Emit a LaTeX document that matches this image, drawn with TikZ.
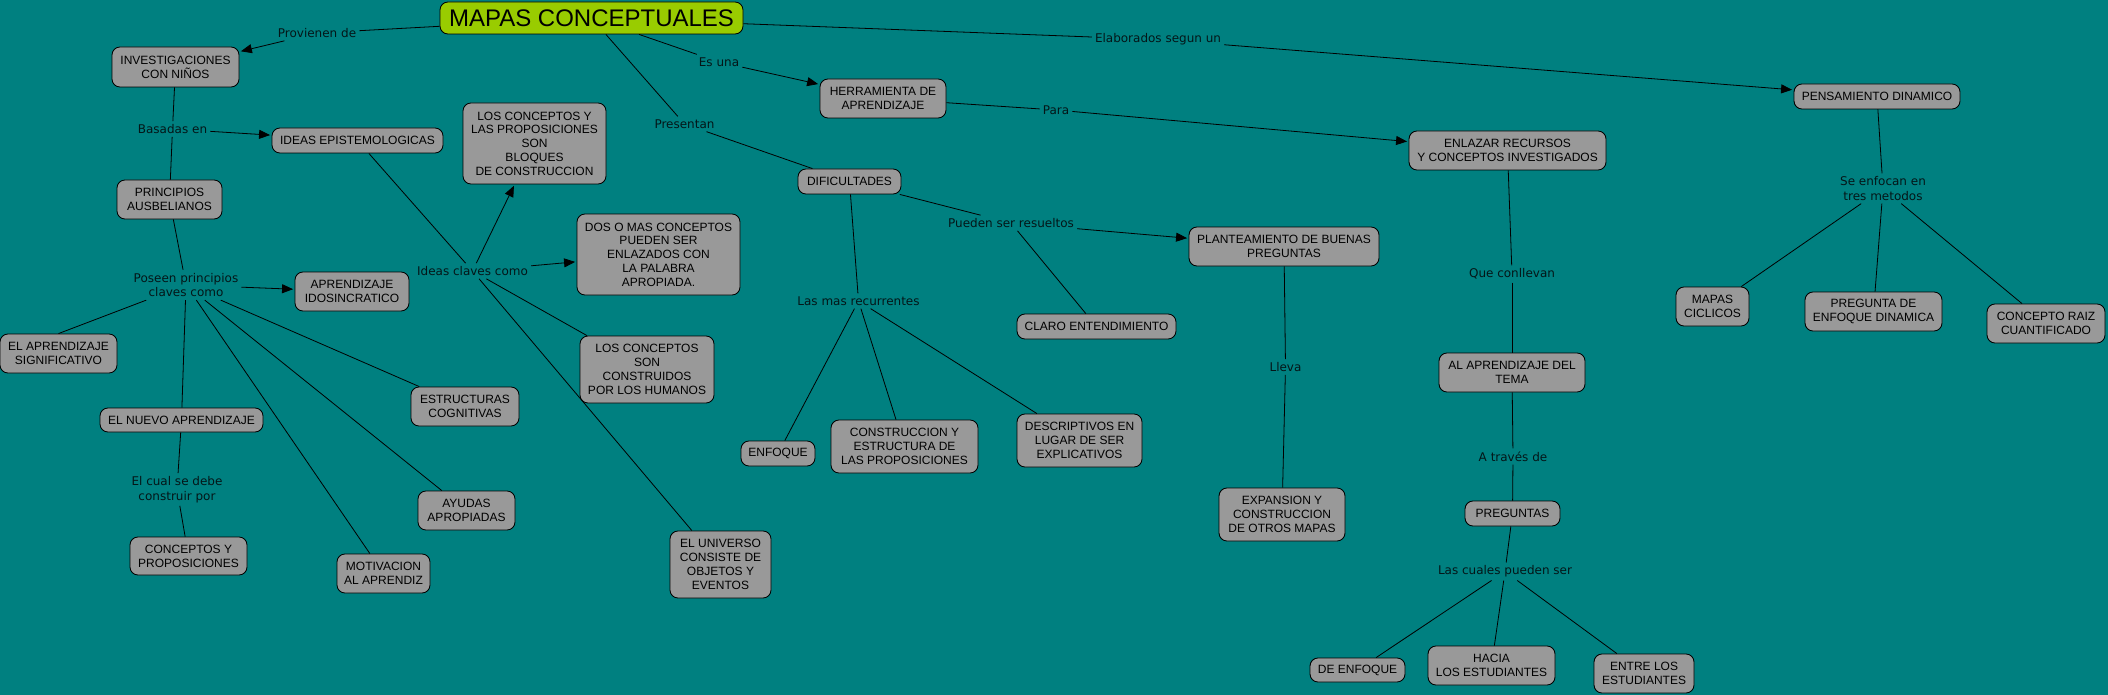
\documentclass[tikz,border=0pt]{standalone}
\usepackage{fontspec}
\setmainfont{Liberation Sans}
\newfontfamily\linkfont{DejaVu Sans}
\usetikzlibrary{arrows.meta}
\definecolor{bg}{RGB}{0,128,128}
\definecolor{cfill}{RGB}{153,153,153}
\definecolor{tfill}{RGB}{153,204,0}
\definecolor{linktext}{RGB}{4,22,24}
\begin{document}
\begin{tikzpicture}[x=1pt,y=-1pt,
  concept/.style={draw=black, fill=cfill, rounded corners=8pt, line width=0.85pt, align=center, inner sep=1pt, font=\fontsize{12}{13.8}\selectfont, text=black},
  titlebox/.style={concept, fill=tfill, font=\fontsize{24}{28}\selectfont},
  link/.style={align=center, inner sep=3pt, font=\linkfont\fontsize{12}{14.6}\selectfont, text=linktext},
  conn/.style={draw=black, line width=0.8pt},
  arr/.style={conn, -{Triangle[length=11pt,width=9pt]}, shorten >=1.5pt}
]
\fill[bg] (0,0) rectangle (2108,695);
\useasboundingbox (0,0) rectangle (2108,695);

% concepts
\node[titlebox, minimum width=303pt, minimum height=32pt] (title) at (591.5,18) {MAPAS CONCEPTUALES};
\node[concept, minimum width=127pt, minimum height=40pt] (inv) at (175.5,67) {INVESTIGACIONES\\CON NIÑOS};
\node[concept, minimum width=171pt, minimum height=25pt] (ideas) at (357.5,140.5) {IDEAS EPISTEMOLOGICAS};
\node[concept, minimum width=105pt, minimum height=39pt] (princ) at (169.5,199.5) {PRINCIPIOS\\AUSBELIANOS};
\node[concept, minimum width=143pt, minimum height=81pt] (bloques) at (534.5,143.5) {LOS CONCEPTOS Y\\LAS PROPOSICIONES\\SON\\BLOQUES\\DE CONSTRUCCION};
\node[concept, minimum width=163pt, minimum height=81pt] (dosmas) at (658.5,254.5) {DOS O MAS CONCEPTOS\\PUEDEN SER\\ENLAZADOS CON\\LA PALABRA\\APROPIADA.};
\node[concept, minimum width=114pt, minimum height=39pt] (idio) at (352,291.5) {APRENDIZAJE\\IDOSINCRATICO};
\node[concept, minimum width=117pt, minimum height=39pt] (signif) at (58.5,353.5) {EL APRENDIZAJE\\SIGNIFICATIVO};
\node[concept, minimum width=163pt, minimum height=24pt] (nuevo) at (181.5,420) {EL NUEVO APRENDIZAJE};
\node[concept, minimum width=117pt, minimum height=38pt] (conprop) at (188.5,556) {CONCEPTOS Y\\PROPOSICIONES};
\node[concept, minimum width=93pt, minimum height=39pt] (motiv) at (383.5,573.5) {MOTIVACION\\AL APRENDIZ};
\node[concept, minimum width=108pt, minimum height=39pt] (estruct) at (465,406.5) {ESTRUCTURAS\\COGNITIVAS};
\node[concept, minimum width=97pt, minimum height=39pt] (ayudas) at (466.5,510.5) {AYUDAS\\APROPIADAS};
\node[concept, minimum width=134pt, minimum height=67pt] (construidos) at (647,369.5) {LOS CONCEPTOS\\SON\\CONSTRUIDOS\\POR LOS HUMANOS};
\node[concept, minimum width=101pt, minimum height=67pt] (universo) at (720.5,564.5) {EL UNIVERSO\\CONSISTE DE\\OBJETOS Y\\EVENTOS};
\node[concept, minimum width=126pt, minimum height=39pt] (herram) at (883,98.5) {HERRAMIENTA DE\\APRENDIZAJE};
\node[concept, minimum width=103pt, minimum height=25pt] (dific) at (849.5,181.5) {DIFICULTADES};
\node[concept, minimum width=190pt, minimum height=39pt] (plant) at (1284,246.5) {PLANTEAMIENTO DE BUENAS\\PREGUNTAS};
\node[concept, minimum width=159pt, minimum height=25pt] (claro) at (1096.5,326.5) {CLARO ENTENDIMIENTO};
\node[concept, minimum width=197pt, minimum height=39pt] (enlazar) at (1507.5,150.5) {ENLAZAR RECURSOS\\Y CONCEPTOS INVESTIGADOS};
\node[concept, minimum width=74pt, minimum height=25pt] (enfoque) at (778,453.5) {ENFOQUE};
\node[concept, minimum width=147pt, minimum height=53pt] (constr) at (904.5,446.5) {CONSTRUCCION Y\\ESTRUCTURA DE\\LAS PROPOSICIONES};
\node[concept, minimum width=125pt, minimum height=53pt] (descr) at (1079.5,440.5) {DESCRIPTIVOS EN\\LUGAR DE SER\\EXPLICATIVOS};
\node[concept, minimum width=126pt, minimum height=53pt] (expan) at (1282,514.5) {EXPANSION Y\\CONSTRUCCION\\DE OTROS MAPAS};
\node[concept, minimum width=95pt, minimum height=24pt] (deenf) at (1357.5,670) {DE ENFOQUE};
\node[concept, minimum width=166pt, minimum height=25pt] (pensam) at (1877,96.5) {PENSAMIENTO DINAMICO};
\node[concept, minimum width=73pt, minimum height=39pt] (ciclicos) at (1712.5,306.5) {MAPAS\\CICLICOS};
\node[concept, minimum width=137pt, minimum height=39pt] (pregdin) at (1873.5,311.5) {PREGUNTA DE\\ENFOQUE DINAMICA};
\node[concept, minimum width=118pt, minimum height=39pt] (raiz) at (2046,323.5) {CONCEPTO RAIZ\\CUANTIFICADO};
\node[concept, minimum width=146pt, minimum height=39pt] (altema) at (1512,372.5) {AL APRENDIZAJE DEL\\TEMA};
\node[concept, minimum width=95pt, minimum height=25pt] (preguntas) at (1512.5,513.5) {PREGUNTAS};
\node[concept, minimum width=127pt, minimum height=39pt] (hacia) at (1491.5,665.5) {HACIA\\LOS ESTUDIANTES};
\node[concept, minimum width=100pt, minimum height=39pt] (entre) at (1644,673.5) {ENTRE LOS\\ESTUDIANTES};

% linking phrases
\node[link] (prov) at (317,33) {Provienen de};
\node[link] (basadas) at (172.5,129) {Basadas en};
\node[link] (poseen) at (186,285) {Poseen principios\\claves como};
\node[link] (ideascl) at (472.5,271) {Ideas claves como};
\node[link] (elcual) at (177,489.5) {El cual se debe\\construir por};
\node[link] (esuna) at (719,62) {Es una};
\node[link] (presentan) at (684.5,124) {Presentan};
\node[link] (elab) at (1158,39.5) {Elaborados segun un};
\node[link] (para) at (1056,110) {Para};
\node[link] (pueden) at (1011,223) {Pueden ser resueltos};
\node[link] (lasmas) at (858.5,301) {Las mas recurrentes};
\node[link] (lleva) at (1285.5,367) {Lleva};
\node[link] (quecon) at (1512,274) {Que conllevan};
\node[link] (atraves) at (1513,456.5) {A través de};
\node[link] (lascuales) at (1505,571.5) {Las cuales pueden ser};
\node[link] (seenf) at (1883,188.5) {Se enfocan en\\tres metodos};

% connectors
\draw[conn] (title) -- (prov);
\draw[arr] (prov) -- (inv);
\draw[conn] (inv) -- (basadas);
\draw[conn] (basadas) -- (princ);
\draw[arr] (basadas) -- (ideas);
\draw[conn] (princ) -- (poseen);
\draw[arr] (poseen) -- (idio);
\draw[conn] (poseen) -- (signif.north);
\draw[conn] (poseen) -- (nuevo);
\draw[conn] (poseen) -- (motiv);
\draw[conn] (poseen) -- (ayudas);
\draw[conn] (poseen) -- (estruct);
\draw[conn] (nuevo) -- (elcual);
\draw[conn] (elcual) -- (conprop);
\draw[conn] (ideas) -- (ideascl);
\draw[arr] (ideascl) -- (bloques);
\draw[arr] (ideascl) -- (dosmas);
\draw[conn] (ideascl) -- (construidos);
\draw[conn] (ideascl) -- (universo);
\draw[conn] (title) -- (esuna);
\draw[arr] (esuna) -- (herram);
\draw[conn] (title) -- (presentan);
\draw[conn] (presentan) -- (dific);
\draw[conn] (title) -- (elab);
\draw[arr] (elab) -- (pensam);
\draw[conn] (herram) -- (para);
\draw[arr] (para) -- (enlazar);
\draw[conn] (dific) -- (pueden);
\draw[arr] (pueden) -- (plant);
\draw[conn] (pueden) -- (claro);
\draw[conn] (dific) -- (lasmas);
\draw[conn] (lasmas) -- (enfoque);
\draw[conn] (lasmas) -- (constr);
\draw[conn] (lasmas) -- (descr);
\draw[conn] (plant) -- (lleva);
\draw[conn] (lleva) -- (expan);
\draw[conn] (enlazar) -- (quecon);
\draw[conn] (quecon) -- (altema);
\draw[conn] (altema) -- (atraves);
\draw[conn] (atraves) -- (preguntas);
\draw[conn] (preguntas) -- (lascuales);
\draw[conn] (lascuales) -- (deenf);
\draw[conn] (lascuales) -- (hacia);
\draw[conn] (lascuales) -- (entre);
\draw[conn] (pensam) -- (seenf);
\draw[conn] (seenf) -- (ciclicos);
\draw[conn] (seenf) -- (pregdin);
\draw[conn] (seenf) -- (raiz);
\end{tikzpicture}
\end{document}
